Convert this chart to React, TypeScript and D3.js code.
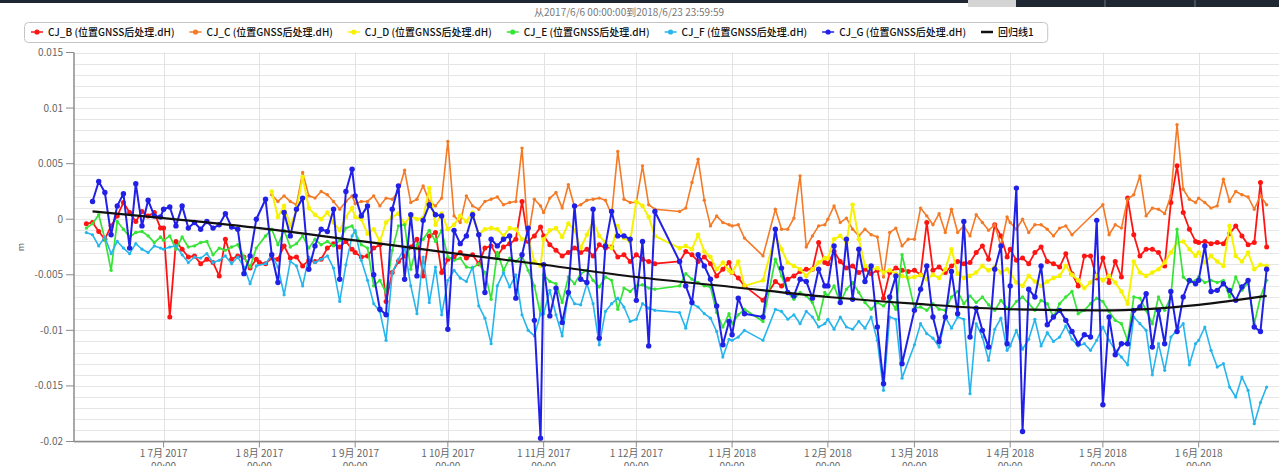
import React, { useEffect, useRef } from 'react';
import * as d3 from 'd3';

const title = '从2017/6/6 00:00:00到2018/6/23 23:59:59';

// first sample of every month block, samples are taken every second day
const blockStarts = [
  '2017-06-06', '2017-07-01', '2017-08-01', '2017-09-01', '2017-10-01', '2017-11-01', '2017-12-01',
  '2018-01-01', '2018-02-01', '2018-03-01', '2018-04-01', '2018-05-01', '2018-06-01',
];

// dH in mm, one inner array per month block (null = no sample)
const cjB = [
  [-0.4, -0.3, -1.1, -1.8, -0.6, 0.3, 1.5, 0.6, -0.2, 0.7, 0.3, 0.6, -0.8],
  [-0.8, -8.8, -2.0, -2.7, -3.4, -3.3, -4.0, -3.6, -3.9, -5.1, -1.8, -3.6, -3.3, -3.4, -4.4, -3.6],
  [-3.9, -4.0, -3.5, -3.6, -2.4, -3.5, -3.4, -4.2, -3.7, -3.8, -3.6, -2.6, -2.2, -2.5, -2.0, -2.7],
  [-3.0, -3.4, -3.3, -2.6, -2.3, -7.4, -4.8, -3.8, -3.3, -2.5, -1.8, -5.1, -1.5, -1.2, -4.8],
  [-3.6, -3.4, -3.0, -3.5, -3.2, -4.0, -2.6, -2.4, -3.3, -2.5, -2.2, -1.8, 1.6, -2.0, -1.5, -0.7],
  [-1.5, -2.3, -2.8, -3.3, -3.0, -2.6, -3.0, -2.7, -3.3, -2.3, -2.6, -2.5, -3.4, -3.2, -3.8],
  [-3.2, -3.6, -3.8, -4.0, null, null, null, -3.8, -2.9, -3.2, -3.8, -3.4, -4.0, -5.1, -4.5, -3.9],
  [-4.8, -5.3, -6.0, null, null, -7.3, null, -5.6, -6.0, -5.4, -5.1, -4.7, -4.5, -4.5, -2.1, -3.9],
  [-4.0, -2.9, -3.8, -4.4, -4.2, -4.8, -4.5, -4.9, -4.6, -7.1, -4.8, -4.4, -4.6, -4.7],
  [-4.6, -5.0, -0.3, -4.6, -4.3, -4.8, -4.2, -3.8, -4.0, -3.9, -3.0, -2.4, -3.6, -0.5, -1.5, -3.4],
  [-2.7, -3.7, -3.5, -4.0, -3.0, -2.5, -3.8, -4.0, -4.3, -3.1, -4.9, -6.0, -3.3, -3.3, -5.3],
  [-3.5, -5.7, -3.8, -5.2, 1.9, -1.4, -3.3, -2.7, -2.7, -3.0, -4.2, 1.5, 4.8, 0.6, -0.9, -2.0],
  [-2.1, -2.0, -2.2, -2.1, -2.2, -1.3, -0.6, -1.5, -2.3, -2.1, 3.3, -2.5],
];

const cjC = [
  [],
  [],
  [null, null, 2.2, 1.6, 2.1, 1.6, 1.3, 4.2, 2.1, 1.9, 2.5, 2.2, 1.6, 0.9, 1.6, 2.1],
  [1.4, 1.6, 1.6, 2.1, 1.2, 1.9, 1.8, 2.5, 4.4, 1.5, 1.8, 3.0, 1.6, 1.2, 1.9],
  [7.0, 0.3, -0.3, 2.1, 1.2, 0.9, 1.6, 1.8, 2.0, 1.3, 1.5, 1.6, 6.4, -1.6, 1.8, 1.2],
  [0.6, 1.9, 2.4, 1.0, 3.1, 1.1, 1.3, 1.7, 1.8, 1.9, 1.7, 0.4, 6.1, 1.8, 1.5],
  [1.5, 4.8, 1.3, 0.9, null, null, null, 0.7, 1.0, 3.3, 5.4, 1.7, -0.6, 0.3, -0.3, -0.5],
  [-0.6, -0.5, -1.7, null, null, -3.3, null, 0.9, -0.9, -0.9, 0.1, 3.9, -2.5, -1.5, -0.6, -0.5],
  [0.0, 1.2, -0.3, 0.1, -0.9, -1.5, -0.9, -1.4, -1.6, -5.2, -1.2, -0.8, -2.4, -1.8],
  [-1.8, 1.0, 0.3, -0.5, 0.5, -1.2, 0.9, -1.2, -0.6, -1.5, 0.4, -0.3, -1.0, -0.5, -2.4, 0.2],
  [-0.3, -0.9, 0.0, -1.2, -0.5, -0.5, -0.9, -1.5, -0.8, -0.6, -1.4, null, null, null, null],
  [1.3, -1.4, -0.5, -0.8, 1.8, 2.2, 3.9, 0.3, 1.0, 0.9, 0.5, 2.1, 8.5, 2.7, 1.8, 1.5],
  [1.9, 1.5, 1.0, 1.2, 3.6, 1.6, 2.5, 2.2, 2.0, 0.9, 2.1, 1.3],
];

const cjD = [
  [],
  [],
  [null, null, 2.5, 0.2, 1.2, -0.6, 0.8, 3.8, 1.0, 0.4, 0.0, 0.6, -0.3, -1.0, 0.2, 1.0],
  [0.2, 0.0, -1.3, -0.9, -2.0, -0.3, 0.2, 0.5, -0.4, 0.3, 0.0, 0.1, 2.8, -0.5, 0.5],
  [-0.9, -0.5, 0.3, -0.2, 0.6, -1.4, -0.9, -0.8, -0.9, -1.5, -0.8, -0.9, -1.8, -1.7, -3.8, -4.2],
  [-1.8, -1.0, -0.8, -1.6, -0.4, -1.0, -2.6, -1.4, -0.2, -1.5, -2.1, -2.6, -0.6, -1.7, -2.0],
  [1.6, 1.2, 0.2, -1.5, null, null, null, -2.6, -2.4, -2.7, -1.4, -2.9, -3.4, -4.5, -3.9, -4.6],
  [-4.8, -3.8, -6.0, null, null, -5.5, null, -1.4, -2.7, -3.9, -4.2, -4.5, -5.1, -4.5, -3.9, -3.5],
  [-3.5, -1.8, -1.5, -2.1, 1.3, -1.8, -4.2, -4.5, -4.4, -4.8, -4.6, -4.9, -5.1, -5.3],
  [-5.2, -5.0, -5.4, -5.0, -5.3, -4.5, -2.7, -4.9, -5.3, -5.1, -4.8, -4.2, -4.6, -4.3, -4.8, -4.5],
  [-4.8, -5.7, -6.0, -5.1, -5.6, -6.0, -5.6, -5.3, -5.1, -4.2, -5.0, -5.5, -6.2, -5.7, -5.1],
  [-5.5, -5.1, -5.7, -6.5, -7.6, -3.8, -4.8, -5.1, -4.8, -4.5, -3.9, -3.0, -2.1, -2.0, -2.7, -3.3],
  [-3.0, -3.9, -3.3, -3.8, -4.2, -0.6, -3.3, -3.8, -3.0, -4.5, -4.1, -4.2],
];

const cjE = [
  [-0.8, -0.4, 0.4, -1.8, -4.6, -0.2, -0.9, -1.6, -1.2, -1.1, -1.5, -2.1, -1.6],
  [-1.9, -1.5, -2.7, -1.6, -2.5, -2.4, -2.1, -2.0, -3.2, -2.6, -2.8, -2.5, -2.3, -3.4, -4.3, -2.6],
  [null, -1.5, -0.9, -2.3, -1.0, -2.5, -2.2, -1.5, -2.6, -1.8, -2.3, -2.0, -2.4, -1.9, -0.8, -0.6],
  [-1.2, -2.3, -2.6, -6.0, -5.5, -6.6, -2.8, -0.6, -0.5, -4.5, -2.3, -1.8, -1.0, -2.0, -1.0],
  [-3.4, -3.7, -3.5, -4.3, -4.4, -4.0, -4.8, -7.2, -3.0, -4.6, -3.5, -3.8, -3.3, -4.6, -6.0, -8.6],
  [-5.0, -5.6, -5.8, -7.5, -5.2, -5.8, -4.9, -4.6, -5.5, -6.1, -5.2, -5.5, -8.1, -6.2, -6.5],
  [-6.0, -5.9, -6.2, -6.3, null, null, null, -6.0, -4.9, -5.4, -5.7, -6.0, -6.1, -8.4, -9.7, -8.5],
  [-9.4, -8.6, -8.1, null, null, -9.2, null, -3.6, -5.1, -6.6, -7.2, -6.6, -6.9, -7.5, -9.0, -6.6],
  [-6.9, -6.0, -7.5, -6.3, -5.7, -6.6, -7.5, -8.1, -7.5, -7.8, -7.2, -8.1, -3.2, null],
  [-8.0, -7.9, -8.2, -7.6, -8.1, -8.2, -7.0, -6.5, -7.6, -6.9, -7.5, -7.0, -7.7, -8.2, -7.3, -8.0],
  [-8.1, -7.4, -7.0, -7.6, -8.2, -7.3, -7.6, -8.8, -7.6, -7.0, -6.5, -8.5, -8.2, -7.6, -7.1],
  [-7.4, -8.3, -9.1, -9.4, -10.9, -7.0, -7.1, -8.2, -9.4, -7.0, -8.2, -7.0, -0.9, -5.2, -5.7, -5.5],
  [-5.2, -5.7, -5.5, -5.7, -5.5, -7.0, -5.2, -6.4, -5.7, -9.4, -7.0, -5.5],
];

const cjF = [
  [-1.2, -1.4, -2.4, -1.6, -3.1, -2.0, -2.6, -3.1, -2.2, -2.7, -3.0, -2.4, -2.6],
  [-2.7, -2.5, -2.4, -3.2, -3.9, -3.4, -3.5, -3.1, -3.9, -3.7, -3.3, -4.0, -3.4, -4.3, -5.8, -4.2],
  [null, -4.0, -3.2, -4.3, -6.8, -3.8, -4.2, -6.0, -3.4, -3.9, -3.6, -3.3, -4.4, -7.4, -4.1, -1.5],
  [-1.0, -3.7, -5.5, -7.6, -8.3, -10.9, -4.8, -3.6, -2.6, -6.0, -8.5, -3.4, -7.5, -4.3, -8.6],
  [-5.5, -4.6, -5.3, -5.6, -4.3, -7.8, -8.9, -11.2, -6.0, -4.8, -6.1, -5.0, -8.6, -10.0, -10.5, -8.5],
  [-8.5, -6.4, -8.6, -10.5, -6.6, -7.6, -7.7, -5.8, -7.6, -11.3, -8.3, -7.6, -7.1, -7.9, -9.2],
  [-9.0, -7.6, -8.0, -8.2, null, null, null, -8.4, -9.8, -7.6, -7.9, -8.5, -8.9, -10.1, -12.4, -10.8],
  [-10.9, -10.6, -10.0, null, null, -10.9, null, -8.1, -8.3, -9.0, -8.6, -9.4, -8.3, -8.8, -9.7, -9.4],
  [-9.0, -9.9, -8.8, -9.7, -9.9, -9.2, -9.8, -8.8, -10.9, -15.4, -8.8, -9.0, -14.3, null],
  [-11.3, -9.4, -10.3, -10.7, -11.5, -8.8, -9.8, -8.8, -9.0, -15.7, -9.4, -10.6, -12.7, -9.9, -8.9, -11.8],
  [-11.4, -10.0, -11.7, -10.8, -9.0, -11.4, -10.2, -11.0, -10.6, -9.6, -10.8, -11.4, -11.2, -11.8, -10.9],
  [-9.7, -10.9, -11.8, -12.4, -13.1, -8.8, -9.4, -10.0, -14.0, -11.2, -13.6, -10.6, -10.0, -9.4, -13.1, -11.2],
  [-10.9, -9.7, -11.8, -13.3, -13.0, -15.1, -16.0, -14.2, -15.4, -18.4, -16.5, -15.1],
];

const cjG = [
  [null, 1.6, 3.4, 2.4, -1.4, 1.2, 2.3, -2.6, 3.2, -0.6, 1.7, 0.3, 0.2],
  [0.9, 1.1, -0.6, 1.2, -0.8, -0.3, -0.9, -0.2, -0.8, -0.5, 0.5, -0.7, -0.9, -4.9, -3.3, 0.0],
  [null, 1.8, -3.2, -5.7, 0.6, -1.5, 0.9, 1.9, -4.5, -2.4, -0.9, -1.1, 0.9, -5.4, 2.5, 4.5],
  [2.1, 0.3, 1.2, -5.0, -8.1, -8.6, 0.9, 3.0, -5.4, 0.4, -5.1, -0.1, 1.3, 0.4, 0.3],
  [-9.9, -1.0, -2.2, -1.5, 0.4, -1.4, -6.6, -1.8, -2.4, -1.8, -1.5, -7.1, -3.2, -0.8, -9.1, -19.7],
  [-4.1, -8.7, -6.2, -9.3, -6.6, 1.2, -5.4, -5.7, 0.9, -10.7, -2.4, 0.7, -1.5, -1.5, -1.8],
  [-7.3, -2.0, -11.4, 0.7, null, null, null, -3.8, -6.0, -7.5, -3.2, -4.2, -5.4, -7.8, -11.3, -9.2],
  [-10.4, -7.1, -8.5, null, null, -8.8, null, -0.9, -4.4, -6.6, -6.9, -5.4, -5.6, -7.1, -4.5, -6.0],
  [-6.0, -2.4, -7.5, -1.8, -7.2, -2.7, -5.6, -4.2, -9.7, -14.8, -7.0, -5.1, -13.0, null],
  [-8.2, -6.3, -4.2, -8.8, -11.0, -8.8, -4.7, -8.5, -0.2, -10.6, -8.0, -10.0, -11.5, -4.5, -2.4, -11.2],
  [-6.0, 2.8, -19.1, -6.3, -7.0, -4.2, -9.5, -8.8, -8.2, -9.1, -10.1, -11.2, -10.4, -10.6, -0.1],
  [-16.7, -8.8, -12.2, -11.2, -11.2, -8.2, -7.9, -6.7, -11.5, -8.2, -11.2, -6.5, -10.1, -7.0, -5.5, -5.8],
  [-5.5, -2.4, -6.5, -6.4, -5.8, -6.4, -7.3, -6.1, -5.5, -9.7, -10.1, -4.5],
];

const seriesNames = [
  'CJ_B (位置GNSS后处理.dH)',
  'CJ_C (位置GNSS后处理.dH)',
  'CJ_D (位置GNSS后处理.dH)',
  'CJ_E (位置GNSS后处理.dH)',
  'CJ_F (位置GNSS后处理.dH)',
  'CJ_G (位置GNSS后处理.dH)',
];
const seriesData = [cjB, cjC, cjD, cjE, cjF, cjG];

// regression curve, mm
const regName = '回归线1';
const regDates = [
  '2017-06-08', '2017-07-01', '2017-08-01', '2017-09-01', '2017-10-01', '2017-11-01', '2017-12-01',
  '2018-01-01', '2018-02-01', '2018-03-01', '2018-04-01', '2018-05-01', '2018-06-01', '2018-06-23',
];
const regValues = [0.7, 0.1, -0.8, -1.9, -3.0, -4.1, -5.2, -6.1, -7.0, -7.6, -8.1, -8.2, -7.7, -6.9];

const yTicks = [0.015, 0.01, 0.005, 0, -0.005, -0.01, -0.015, -0.02];
const yTickLabels = ['0.015', '0.01', '0.005', '0', '-0.005', '-0.01', '-0.015', '-0.02'];
const xDomain = ['2017-06-02', '2018-06-27'];

const styles = [
  { color: '#ff1414', r: 2.5, w: 1.8 },
  { color: '#f47a26', r: 1.7, w: 1.6 },
  { color: '#f6f200', r: 2.3, w: 2 },
  { color: '#36e436', r: 1.7, w: 1.7 },
  { color: '#27b5ee', r: 1.6, w: 1.6 },
  { color: '#2020e6', r: 2.7, w: 2 },
];

const W = 1279;
const H = 466;
const plot = { left: 74, right: 1279, top: 52.5, bottom: 441.5 };
const font = '"Noto Sans CJK SC", "Noto Sans", sans-serif';

type Pt = { date: Date; value: number };

const parse = d3.timeParse('%Y-%m-%d');

function toPoints(blocks: (number | null)[][]): Pt[] {
  const pts: Pt[] = [];
  blocks.forEach((vals, m) => {
    const start = parse(blockStarts[m]) as Date;
    vals.forEach((v, j) => {
      if (v !== null) pts.push({ date: d3.timeDay.offset(start, 2 * j), value: v / 1000 });
    });
  });
  return pts;
}

export default function App() {
  const ref = useRef<SVGSVGElement>(null);

  useEffect(() => {
    document.body.style.margin = '0';
    const svg = d3.select(ref.current);
    svg.selectAll('*').remove();

    const x = d3.scaleTime()
      .domain([parse(xDomain[0]) as Date, parse(xDomain[1]) as Date])
      .range([plot.left, plot.right]);
    const y = d3.scaleLinear().domain([-0.02, 0.015]).range([plot.bottom, plot.top]);

    // top window strip
    svg.append('rect').attr('x', 0).attr('y', 0).attr('width', W).attr('height', 3).attr('fill', '#1f2832');
    svg.append('rect').attr('x', 968).attr('y', 0).attr('width', 48).attr('height', 7).attr('fill', '#d4d4d4');
    svg.append('rect').attr('x', 1016).attr('y', 0).attr('width', W - 1016).attr('height', 7).attr('fill', '#1f2832');
    [1105, 1195].forEach(px => {
      svg.append('line').attr('x1', px).attr('x2', px).attr('y1', 0).attr('y2', 7)
        .attr('stroke', '#6b7480').attr('stroke-width', 1);
    });

    svg.append('text').attr('x', 629).attr('y', 15.5).attr('text-anchor', 'middle')
      .attr('font-family', font).attr('font-size', 10).attr('fill', '#777').text(title);

    // grid
    const grid = svg.append('g');
    const minor = d3.range(-20, 16).map(k => k / 1000);
    grid.selectAll('line.h').data(minor).join('line')
      .attr('x1', plot.left).attr('x2', plot.right)
      .attr('y1', d => Math.round(y(d)) + 0.5).attr('y2', d => Math.round(y(d)) + 0.5)
      .attr('stroke', '#e6e6e6').attr('stroke-width', 1);
    const months = d3.timeMonth.range(new Date(2017, 6, 1), new Date(2018, 6, 1));
    grid.selectAll('line.v').data(months).join('line')
      .attr('x1', d => Math.round(x(d)) + 0.5).attr('x2', d => Math.round(x(d)) + 0.5)
      .attr('y1', plot.top).attr('y2', plot.bottom)
      .attr('stroke', '#e2e2e2').attr('stroke-width', 1);

    // axes
    svg.append('line').attr('x1', plot.left).attr('x2', plot.left).attr('y1', plot.top).attr('y2', plot.bottom)
      .attr('stroke', '#8c8c8c').attr('stroke-width', 1.5);
    svg.append('line').attr('x1', plot.left).attr('x2', plot.right).attr('y1', plot.bottom).attr('y2', plot.bottom)
      .attr('stroke', '#8c8c8c').attr('stroke-width', 1.5);

    yTicks.forEach((t, i) => {
      const py = y(t);
      svg.append('line').attr('x1', plot.left - 8).attr('x2', plot.left).attr('y1', py).attr('y2', py)
        .attr('stroke', '#8c8c8c').attr('stroke-width', 1);
      svg.append('text').attr('x', 63).attr('y', py + 3.5).attr('text-anchor', 'end')
        .attr('font-family', font).attr('font-size', 10).attr('fill', '#666').text(yTickLabels[i]);
    });
    svg.append('text').attr('transform', 'translate(24,247) rotate(-90)').attr('text-anchor', 'middle')
      .attr('font-family', font).attr('font-size', 9).attr('fill', '#666').text('m');

    // month labels, the second line runs off the bottom edge as in the source
    const fmt = d3.timeFormat('%-d %-m月 %Y');
    months.forEach(m => {
      const px = x(m);
      svg.append('line').attr('x1', px).attr('x2', px).attr('y1', plot.bottom).attr('y2', plot.bottom + 6)
        .attr('stroke', '#8c8c8c').attr('stroke-width', 1);
      svg.append('text').attr('x', px).attr('y', 457).attr('text-anchor', 'middle')
        .attr('font-family', font).attr('font-size', 10).attr('fill', '#666').text(fmt(m));
      svg.append('text').attr('x', px).attr('y', 469.5).attr('text-anchor', 'middle')
        .attr('font-family', font).attr('font-size', 10).attr('fill', '#666').text('00:00');
    });

    // series
    const line = d3.line<Pt>().x(d => x(d.date)).y(d => y(d.value));
    const data = svg.append('g');
    seriesData.forEach((blocks, i) => {
      const pts = toPoints(blocks);
      const s = styles[i];
      data.append('path').datum(pts).attr('d', line).attr('fill', 'none')
        .attr('stroke', s.color).attr('stroke-width', s.w).attr('stroke-linejoin', 'round');
      data.append('g').selectAll('circle').data(pts).join('circle')
        .attr('cx', d => x(d.date)).attr('cy', d => y(d.value)).attr('r', s.r).attr('fill', s.color);
    });

    const regPts: Pt[] = regDates.map((d, i) => ({ date: parse(d) as Date, value: regValues[i] / 1000 }));
    data.append('path').datum(regPts)
      .attr('d', d3.line<Pt>().x(d => x(d.date)).y(d => y(d.value)).curve(d3.curveMonotoneX))
      .attr('fill', 'none').attr('stroke', '#111').attr('stroke-width', 2.2);

    // legend
    const legend = svg.append('g');
    const box = legend.append('rect');
    let cx = 31;
    const items = [...seriesNames.map((n, i) => ({ name: n, color: styles[i].color, dot: true })),
      { name: regName, color: '#111', dot: false }];
    items.forEach(it => {
      legend.append('line').attr('x1', cx).attr('x2', cx + 12).attr('y1', 32).attr('y2', 32)
        .attr('stroke', it.color).attr('stroke-width', it.dot ? 1.5 : 2.5);
      if (it.dot) legend.append('circle').attr('cx', cx + 6).attr('cy', 32).attr('r', 2.6).attr('fill', it.color);
      const t = legend.append('text').attr('x', cx + 17).attr('y', 35.5)
        .attr('font-family', font).attr('font-size', 10).attr('font-weight', 500).attr('fill', '#111').text(it.name);
      const w = (t.node() as SVGTextElement).getComputedTextLength();
      cx = cx + 17 + w + 15;
    });
    box.attr('x', 24.5).attr('y', 22.5).attr('width', cx - 24.5 - 1).attr('height', 20).attr('rx', 4)
      .attr('fill', '#fff').attr('stroke', '#c4c4c4');
  }, []);

  return <svg ref={ref} width={W} height={H} style={{ display: 'block', background: '#fff' }} />;
}
